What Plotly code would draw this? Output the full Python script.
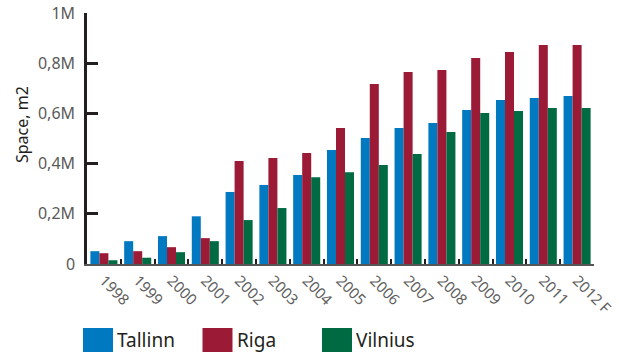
import plotly.graph_objects as go

years = ["1998", "1999", "2000", "2001", "2002", "2003", "2004", "2005",
         "2006", "2007", "2008", "2009", "2010", "2011", "2012 F"]
tallinn = [51000, 91000, 111000, 190000, 287000, 315000, 355000, 454000,
           502000, 542000, 562000, 614000, 653000, 661000, 669000]
riga = [43000, 51000, 67000, 103000, 410000, 422000, 442000, 542000,
        717000, 765000, 773000, 821000, 845000, 873000, 873000]
vilnius = [15000, 25000, 47000, 91000, 175000, 223000, 346000, 366000,
           394000, 438000, 526000, 602000, 610000, 622000, 622000]
series_names = ["Tallinn", "Riga", "Vilnius"]
colors = ["#0079C1", "#9B1B36", "#006A43"]
ytick_vals = [0, 200000, 400000, 600000, 800000, 1000000]
ytick_text = ["0", "0,2M", "0,4M", "0,6M", "0,8M", "1M"]

W, H = 619, 355
L, R, T, B = 87, 25, 13, 91
pw, ph = W - L - R, H - T - B

fig = go.Figure()
for name, vals, c in zip(series_names, [tallinn, riga, vilnius], colors):
    fig.add_trace(go.Bar(x=years, y=vals, name=name, marker=dict(color=c, line=dict(width=0))))

fig.update_layout(
    width=W, height=H, margin=dict(l=L, r=R, t=T, b=B, autoexpand=False),
    plot_bgcolor="white", paper_bgcolor="white",
    barmode="group", bargap=0.2, bargroupgap=0,
    showlegend=False,
    font=dict(family="Noto Sans", color="#555555"),
)
fig.update_xaxes(
    automargin=False,
    showline=True, linecolor="#555555", linewidth=2,
    ticks="inside", tickson="boundaries", ticklen=5, tickwidth=2, tickcolor="#231F20",
    tickangle=45, tickfont=dict(size=15, color="#606060"), showgrid=False,
)
fig.update_yaxes(
    automargin=False,
    range=[0, 1000000], tickvals=ytick_vals, ticktext=ytick_text,
    showline=True, linecolor="#231F20", linewidth=2.5,
    ticks="inside", ticklen=11, tickwidth=2.5, tickcolor="#231F20",
    tickfont=dict(size=16, color="#5a5a5a"), ticklabelstandoff=6,
    ticklabeloverflow="allow",
    showgrid=False, zeroline=False,
)

# positions below are page pixels
def px_x(v):
    return (v - L) / pw

def px_y(v):
    return (H - B - v) / ph

fig.add_annotation(text="Space, m2", xref="paper", yref="paper",
                   x=px_x(22), y=px_y(125), textangle=-90, showarrow=False,
                   xanchor="center", yanchor="middle",
                   font=dict(size=16, color="#231F20"))

# legend drawn as large swatches below the plot
for i, (name, c) in enumerate(zip(series_names, colors)):
    x0 = 83 + i * 119.5
    fig.add_shape(type="rect", xref="paper", yref="paper",
                  x0=px_x(x0), x1=px_x(x0 + 30), y0=px_y(352), y1=px_y(328),
                  fillcolor=c, line=dict(width=0))
    fig.add_annotation(text=name, xref="paper", yref="paper",
                       x=px_x(x0 + 32), y=px_y(340), xanchor="left", yanchor="middle",
                       showarrow=False, font=dict(size=19, color="#231F20"))

# drop the default page margin so the figure sits at the top-left corner
fig.write_html("out.html", config={"displayModeBar": False},
               post_script="document.body.style.margin='0';")
